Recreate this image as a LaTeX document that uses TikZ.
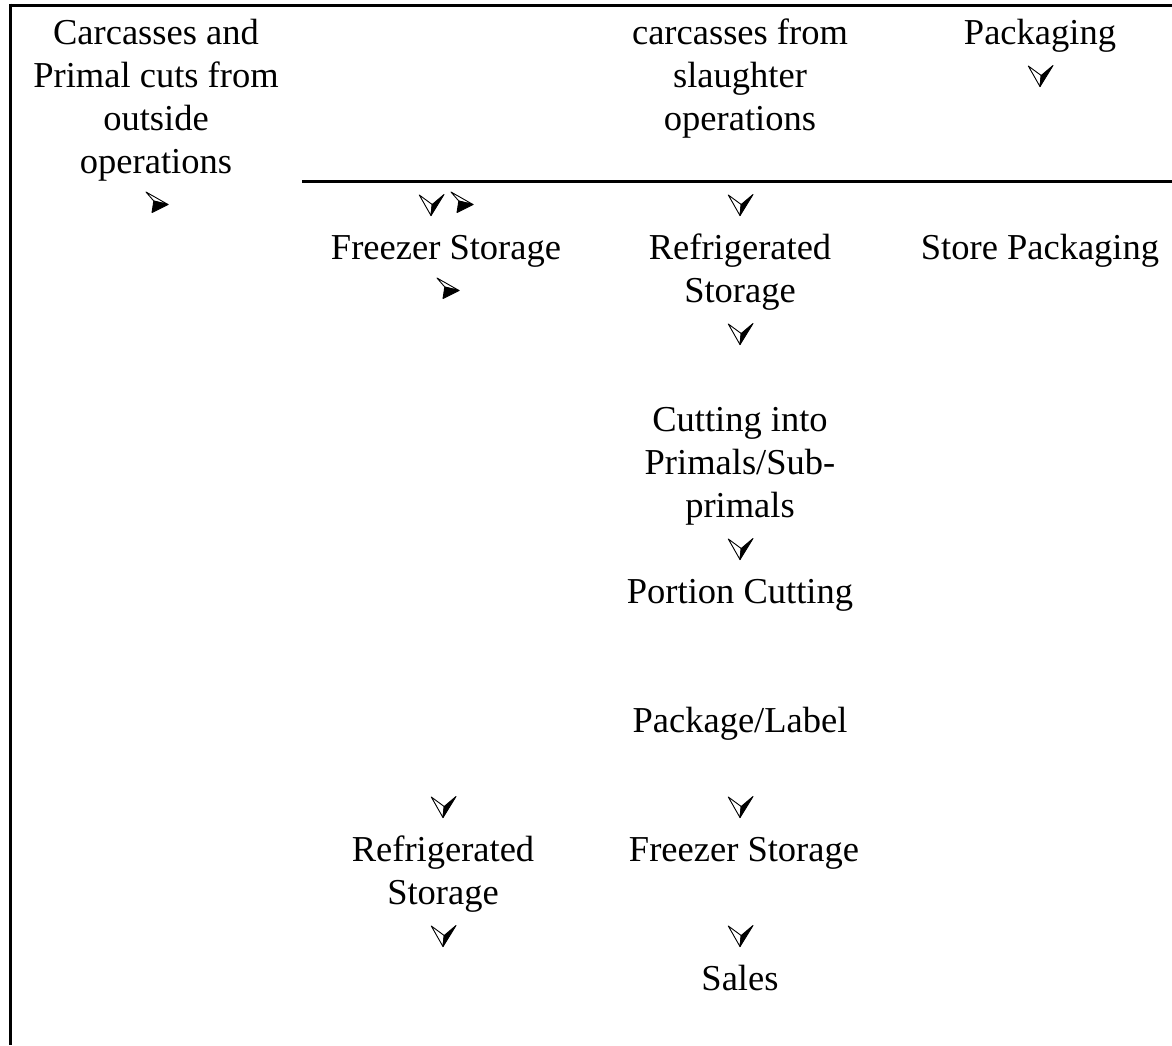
\documentclass[tikz,border=0pt]{standalone}
\usepackage{fontspec}
\setmainfont{Liberation Serif}
\usetikzlibrary{positioning}

\tikzset{
  % multi-line labels sit on the baseline of their last line
  lbl/.style={align=center, anchor=base, inner sep=0pt, font=\fontsize{36.5pt}{43pt}\selectfont},
  rule/.style={line width=3pt},
  % arrowhead glyphs, origin at the baseline
  rhead/.pic={
    \filldraw[fill=white, line width=0.9pt, line join=round] (-11pt,24pt) -- (11pt,11.5pt) -- (-3.2pt,15pt) -- cycle;
    \filldraw[fill=black, line width=0.9pt, line join=round] (-3.2pt,15pt) -- (11pt,11.5pt) -- (-5pt,3.5pt) -- cycle;
  },
  dhead/.pic={
    \filldraw[fill=white, line width=0.9pt, line join=round] (-11.7pt,21pt) -- (1.2pt,11.5pt) -- (0pt,0.4pt) -- cycle;
    \filldraw[fill=black, line width=0.9pt, line join=round] (1.2pt,11.5pt) -- (13pt,21.5pt) -- (0pt,0.4pt) -- cycle;
  }
}

\begin{document}
\begin{tikzpicture}[x=1pt, y=-43pt]
\useasboundingbox (0pt,0pt) rectangle (1172pt,-1045pt);

% frame
\draw[rule] (10pt,-5pt) -- (1172pt,-5pt);
\draw[rule] (10pt,-3.5pt) -- (10pt,-1045pt);
\draw[rule] (302pt,-181.5pt) -- (1172pt,-181.5pt);

\begin{scope}[yshift=-44pt]
% column 1
\node[lbl] (outside) at (156,3) {Carcasses and\\Primal cuts from\\outside\\operations};
\pic at (157,4) {rhead};

% column 2
\pic at (431,4) {dhead};
\pic at (462,4) {rhead};
\node[lbl] (frz) at (446,5) {Freezer Storage};
\pic at (448,6) {rhead};
\pic at (443,18) {dhead};
\node[lbl] (refr2) at (443,20) {Refrigerated\\Storage};
\pic at (443,21) {dhead};

% column 3
\node[lbl] (slaughter) at (740,2) {carcasses from\\slaughter\\operations};
\pic at (740,4) {dhead};
\node[lbl] (refr) at (740,6) {Refrigerated\\Storage};
\pic at (740,7) {dhead};
\node[lbl] (cut) at (740,11) {Cutting into\\Primals/Sub-\\primals};
\pic at (740,12) {dhead};
\node[lbl] (portion) at (740,13) {Portion Cutting};
\node[lbl] (label) at (740,16) {Package/Label};
\pic at (740,18) {dhead};
\node[lbl] (frz2) at (744,19) {Freezer Storage};
\pic at (740,21) {dhead};
\node[lbl] (sales) at (740,22) {Sales};

% column 4
\node[lbl] (pack) at (1040,0) {Packaging};
\pic at (1040,1) {dhead};
\node[lbl] (store) at (1040,5) {Store Packaging};
\end{scope}
\end{tikzpicture}
\end{document}
